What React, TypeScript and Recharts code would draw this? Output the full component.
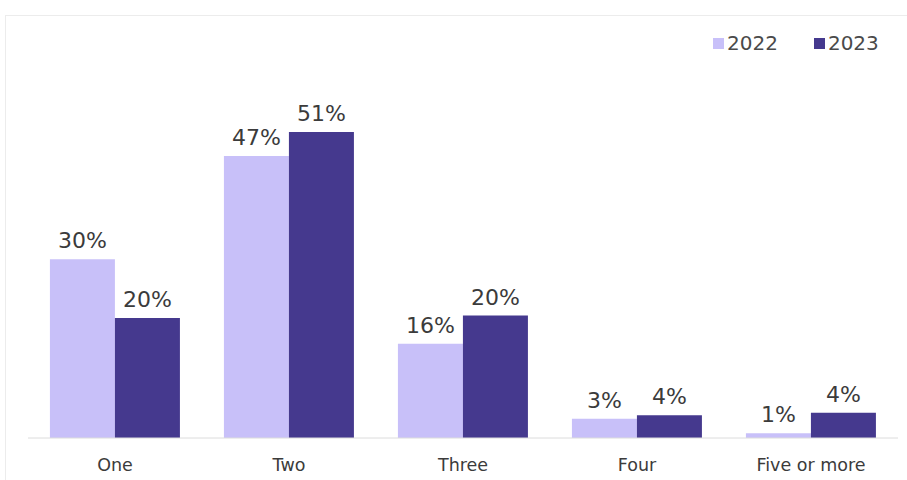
import React from "react";
import { BarChart, Bar, XAxis, YAxis, LabelList, Legend } from "recharts";

const categories = ["One", "Two", "Three", "Four", "Five or more"];
const values2022 = [29.8, 47, 15.7, 3.2, 0.8];
const values2023 = [20, 51, 20.4, 3.8, 4.2];
const seriesNames = ["2022", "2023"];
const colors = ["#c8c0f9", "#45398e"];

const data = categories.map((c, i) => ({
  name: c,
  y2022: values2022[i],
  y2023: values2023[i],
}));

const FONT = "'DejaVu Sans', Arial, sans-serif";
const TEXT = "#3b3b3b";

const fmt = (v: any) => `${Math.round(Number(v))}%`;

const LegendContent = () => (
  <div style={{ display: "flex", alignItems: "center", fontFamily: FONT, fontSize: 20, color: "#4a4a4a" }}>
    {seriesNames.map((s, i) => (
      <div key={s} style={{ display: "flex", alignItems: "center", marginRight: i === 0 ? 36 : 0 }}>
        <span style={{ display: "inline-block", width: 11, height: 11, background: colors[i], marginRight: 3 }} />
        <span>{s}</span>
      </div>
    ))}
  </div>
);

export default function App() {
  return (
    <div style={{ position: "absolute", left: 0, top: 0, width: 907, height: 480, background: "#fff", overflow: "hidden" }}>
      <div
        style={{
          position: "absolute",
          left: 5,
          top: 15,
          width: 920,
          height: 480,
          borderTop: "1px solid #ececec",
          borderLeft: "1px solid #ececec",
        }}
      />
      <div style={{ position: "absolute", left: 0, top: 0 }}>
        <BarChart
          width={907}
          height={480}
          data={data}
          margin={{ top: 78, right: 9, bottom: 0, left: 28 }}
          barCategoryGap="12.6%"
          barGap={0}
        >
          <XAxis
            dataKey="name"
            height={42}
            tickLine={false}
            axisLine={{ stroke: "#dcdcdc", strokeWidth: 1 }}
            tick={{ fill: TEXT, fontSize: 17.5, fontFamily: FONT }}
            tickMargin={15}
            interval={0}
          />
          <YAxis hide domain={[0, 60]} />
          <Legend
            verticalAlign="middle"
            align="center"
            layout="horizontal"
            wrapperStyle={{ position: "absolute", top: 31, left: 713, width: 190 }}
            content={<LegendContent />}
          />
          <Bar dataKey="y2022" name={seriesNames[0]} fill={colors[0]} isAnimationActive={false}>
            <LabelList dataKey="y2022" position="top" offset={11} formatter={fmt} fill={TEXT} fontSize={22} fontFamily={FONT} />
          </Bar>
          <Bar dataKey="y2023" name={seriesNames[1]} fill={colors[1]} isAnimationActive={false}>
            <LabelList dataKey="y2023" position="top" offset={11} formatter={fmt} fill={TEXT} fontSize={22} fontFamily={FONT} />
          </Bar>
        </BarChart>
      </div>
    </div>
  );
}
